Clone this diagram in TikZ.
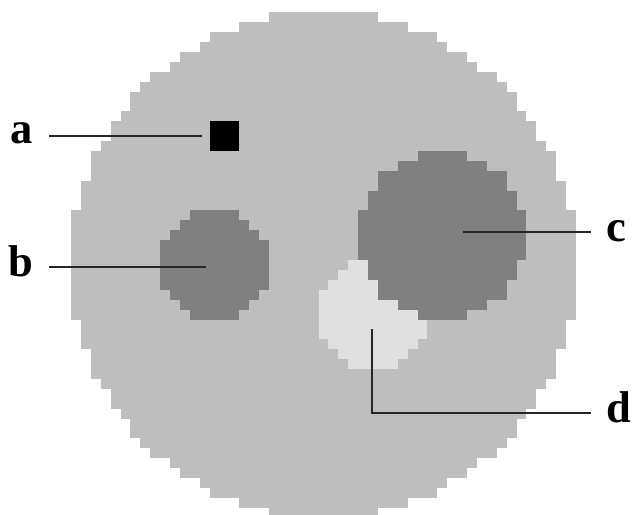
\documentclass[tikz,border=0pt]{standalone}
\usepackage{fontspec}
\setmainfont{Liberation Serif}
\usepackage{tikz}
\usetikzlibrary{positioning}
\usepackage{xcolor}
\definecolor{bodygray}{RGB}{190,190,190}
\definecolor{lesiongray}{RGB}{128,128,128}
\definecolor{palegray}{RGB}{224,224,224}
\newcommand{\pixdisc}[4]{%
  \foreach \dy in {-#3,...,#3}{%
    \pgfmathtruncatemacro{\hw}{floor(sqrt((#3+0.5)^2-(\dy)^2))}%
    \fill[#4] ({#1-\hw-0.5},{#2+\dy-0.51}) rectangle ({#1+\hw+0.5},{#2+\dy+0.51});
  }}

\begin{document}
\begin{tikzpicture}[x=0.25cm,y=0.25cm,
    leader/.style={line width=1.3pt,black!85},
    lbl/.style={inner ysep=0pt,inner xsep=0.4cm,font=\fontsize{32}{36}\selectfont\bfseries}]
                    \useasboundingbox (-32.68,-25.15) rectangle (31.26,26.77);
                    \clip (-32.68,-25.15) rectangle (31.26,26.77);
                    \pixdisc{0}{0}{25}{bodygray}
                    \pixdisc{-11}{0}{5}{lesiongray}
                    \pixdisc{5}{-5}{5}{palegray}
                    \pixdisc{12}{3}{8}{lesiongray}
                    \fill[black] (-11.5,11.5) rectangle (-8.5,14.5);
                    \node[lbl,anchor=base east] (la) at (-27.7,12.29) {a};
                    \node[lbl,anchor=base east] (lb) at (-27.7,-1.18) {b};
                    \node[lbl,anchor=base west] (lc) at (27.0,2.35) {c};
                    \node[lbl,anchor=base west] (ld) at (27.0,-15.91) {d};
                    \coordinate (a-tip) at (-12.27,13);
                    \coordinate (b-tip) at (-11.87,-0.2);
                    \coordinate (c-tip) at (14.09,3.3);
                    \coordinate (d-tip) at (4.9,-6.46);
                    \coordinate (d-bend) at (4.9,-14.95);
                    \draw[leader] (a-tip) -- (a-tip -| la.east);
                    \draw[leader] (b-tip) -- (b-tip -| lb.east);
                    \draw[leader] (c-tip) -- (c-tip -| lc.west);
                    \draw[leader] (d-tip) -- (d-bend) -- (d-bend -| ld.west);
                \end{tikzpicture}
\end{document}
